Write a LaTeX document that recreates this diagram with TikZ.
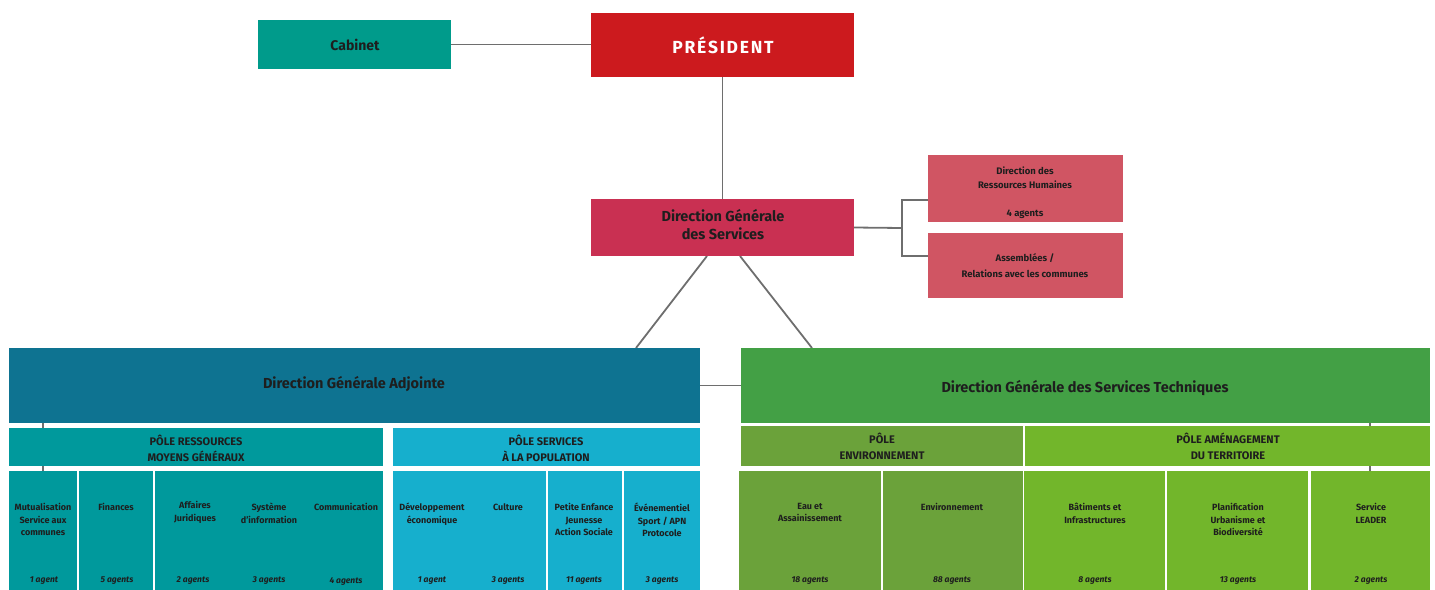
\documentclass[tikz,border=0pt]{standalone}
\usepackage{fontspec}
\setmainfont{Fira Sans}
\usetikzlibrary{backgrounds}
\definecolor{cabc}{HTML}{009B8B}
\definecolor{presc}{HTML}{CC1A1E}
\definecolor{dgsc}{HTML}{C93052}
\definecolor{rhc}{HTML}{D05563}
\definecolor{dgac}{HTML}{0E7391}
\definecolor{dgstc}{HTML}{43A045}
\definecolor{presc2}{HTML}{00999C}
\definecolor{popc}{HTML}{16AFCD}
\definecolor{envc}{HTML}{6BA23A}
\definecolor{amec}{HTML}{72B62B}
\definecolor{linec}{HTML}{6E6E6E}
\definecolor{txtc}{HTML}{1E1E1E}
\tikzset{
  boxnw/.style={anchor=north west, inner sep=0pt, outer sep=0pt, draw=none},
  lbl/.style={inner sep=0pt, text=txtc, align=center, font=\bfseries},
  celltxt/.style={lbl, anchor=north, font=\fontsize{9}{12.5}\selectfont\bfseries},
  agtxt/.style={lbl, font=\fontsize{8.5}{10}\selectfont\bfseries\itshape},
  poletxt/.style={lbl, font=\fontsize{11}{16}\selectfont\bfseries},
  conn/.style={draw=linec, line width=1.8pt},
}
\begin{document}
\begin{tikzpicture}[x=1pt,y=-1pt]
\useasboundingbox (0,0) rectangle (1435,589);
% top boxes
\node[boxnw, fill=cabc, minimum width=193pt, minimum height=49pt] (cab) at (258,20) {};
\node[lbl, font=\fontsize{14}{16}\selectfont\bfseries] (cabt) at (355,45) {Cabinet};
\node[boxnw, fill=presc, minimum width=263pt, minimum height=64pt] (pres) at (591,13) {};
\node[lbl, text=white, font=\fontsize{17.5}{20}\selectfont\bfseries\addfontfeature{LetterSpace=10}] (prest) at (723,45) {PRÉSIDENT};
\node[boxnw, fill=dgsc, minimum width=263pt, minimum height=57pt] (dgs) at (591,199) {};
\node[lbl, font=\fontsize{14.5}{18}\selectfont\bfseries] (dgst) at (723,225) {Direction Générale\\des Services};
\node[boxnw, fill=rhc, minimum width=195pt, minimum height=67pt] (rh) at (928,155) {};
\node[lbl, font=\fontsize{9.5}{14.5}\selectfont\bfseries, anchor=north] (rht) at (1025,166.5) {Direction des\\Ressources Humaines\\[13pt]4 agents};
\node[boxnw, fill=rhc, minimum width=195pt, minimum height=65pt] (ass) at (928,233) {};
\node[lbl, font=\fontsize{9.5}{16}\selectfont\bfseries] (asst) at (1025,266) {Assemblées /\\Relations avec les communes};
% DGA / DGST
\node[boxnw, fill=dgac, minimum width=691pt, minimum height=75pt] (dga) at (9,348) {};
\node[lbl, font=\fontsize{14.5}{16}\selectfont\bfseries] (dgat) at (354,384) {Direction Générale Adjointe};
\node[boxnw, fill=dgstc, minimum width=689pt, minimum height=75pt] (dgst2) at (741,348) {};
\node[lbl, font=\fontsize{14.5}{16}\selectfont\bfseries] (dgstt) at (1085,388) {Direction Générale des Services Techniques};
% poles
\node[boxnw, fill=presc2, minimum width=374pt, minimum height=38pt] (pr) at (9,428) {};
\node[poletxt] (prt) at (196,448) {PÔLE RESSOURCES\\MOYENS GÉNÉRAUX};
\node[boxnw, fill=popc, minimum width=307pt, minimum height=38pt] (ps) at (393,428) {};
\node[poletxt] (pst) at (546,448) {PÔLE SERVICES\\À LA POPULATION};
\node[boxnw, fill=envc, minimum width=282pt, minimum height=40pt] (pe) at (741,426) {};
\node[poletxt] (pet) at (882,446) {PÔLE\\ENVIRONNEMENT};
\node[boxnw, fill=amec, minimum width=405pt, minimum height=40pt] (pa) at (1025,426) {};
\node[poletxt] (pat) at (1228,446) {PÔLE AMÉNAGEMENT\\DU TERRITOIRE};
% cells
\node[boxnw, fill=presc2, minimum width=68pt, minimum height=130pt] (c1) at (9,471) {};
\node[boxnw, fill=presc2, minimum width=74pt, minimum height=130pt] (c2) at (79,471) {};
\node[boxnw, fill=presc2, minimum width=228pt, minimum height=130pt] (c3) at (155,471) {};
\node[boxnw, fill=popc, minimum width=153pt, minimum height=130pt] (c4) at (393,471) {};
\node[boxnw, fill=popc, minimum width=74pt, minimum height=130pt] (c5) at (548,471) {};
\node[boxnw, fill=popc, minimum width=76pt, minimum height=130pt] (c6) at (624,471) {};
\node[boxnw, fill=envc, minimum width=142pt, minimum height=130pt] (c7) at (739,471) {};
\node[boxnw, fill=envc, minimum width=140pt, minimum height=130pt] (c8) at (883,471) {};
\node[boxnw, fill=amec, minimum width=141pt, minimum height=130pt] (c9) at (1024,471) {};
\node[boxnw, fill=amec, minimum width=141pt, minimum height=130pt] (c10) at (1167,471) {};
\node[boxnw, fill=amec, minimum width=119pt, minimum height=130pt] (c11) at (1311,471) {};
% cell texts
\node[celltxt] (t1) at (43,503) {Mutualisation\\Service aux\\communes};
\node[celltxt] (t2) at (116,503) {Finances};
\node[celltxt] (t3a) at (195,501) {Affaires\\Juridiques};
\node[celltxt] (t3b) at (269,503) {Système\\d'information};
\node[celltxt] (t3c) at (346,503) {Communication};
\node[celltxt] (t4a) at (432,503) {Développement\\économique};
\node[celltxt] (t4b) at (508,503) {Culture};
\node[celltxt] (t5) at (584,503) {Petite Enfance\\Jeunesse\\Action Sociale};
\node[celltxt] (t6) at (662,503) {Événementiel\\Sport / APN\\Protocole};
\node[celltxt] (t7) at (810,503) {Eau et\\Assainissement};
\node[celltxt] (t8) at (952,503) {Environnement};
\node[celltxt] (t9) at (1095,503) {Bâtiments et\\Infrastructures};
\node[celltxt] (t10) at (1238,503) {Planification\\Urbanisme et\\Biodiversité};
\node[celltxt] (t11) at (1371,503) {Service\\LEADER};
% agents
\node[agtxt] (a1) at (44,581) {1 agent};
\node[agtxt] (a2) at (117,581) {5 agents};
\node[agtxt] (a3a) at (193,581) {2 agents};
\node[agtxt] (a3b) at (269,581) {3 agents};
\node[agtxt] (a3c) at (346,581) {4 agents};
\node[agtxt] (a4a) at (432,581) {1 agent};
\node[agtxt] (a4b) at (508,581) {3 agents};
\node[agtxt] (a5) at (584,581) {11 agents};
\node[agtxt] (a6) at (662,581) {3 agents};
\node[agtxt] (a7) at (810,581) {18 agents};
\node[agtxt] (a8) at (952,581) {88 agents};
\node[agtxt] (a9) at (1095,581) {8 agents};
\node[agtxt] (a10) at (1238,581) {13 agents};
\node[agtxt] (a11) at (1371,581) {2 agents};
% connectors
\coordinate (brk) at (902,228);
\begin{scope}[on background layer]
\draw[conn] (cab.east) -- (pres.west |- cab.east);
\draw[conn] (pres.south) -- (dgs.north);
\draw[conn] (dgs.east) -- (brk);
\draw[conn] (rh.west |- 0,200) -| (brk) |- (ass.west |- 0,256);
\draw[conn] (dgs.south -| 707,0) -- (dga.north -| 636,0);
\draw[conn] (dgs.south -| 740,0) -- (dgst2.north -| 812,0);
\draw[conn] (dga.east) -- (dga.east -| dgst2.west);
\draw[conn] (dga.south -| 43,0) -- (c1.north -| 43,0);
\draw[conn] (dgst2.south -| 1370,0) -- (c11.north -| 1370,0);
\end{scope}
\end{tikzpicture}
\end{document}
